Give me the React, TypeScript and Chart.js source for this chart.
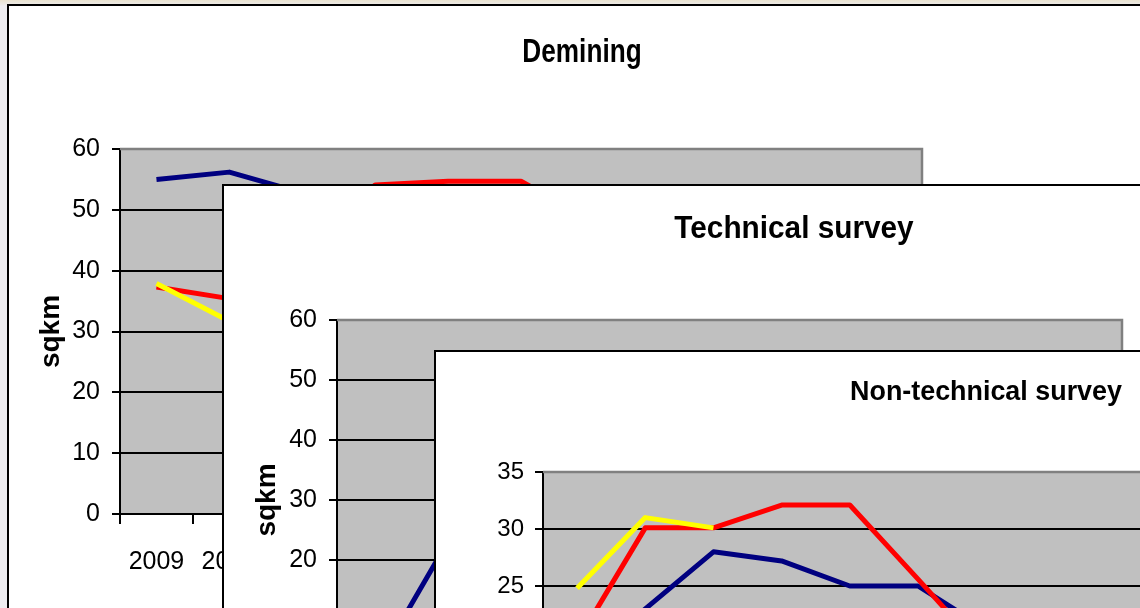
import React, { useEffect, useRef } from 'react';
import { Chart, registerables } from 'chart.js';

Chart.register(...registerables);

const FONT = "'Liberation Sans', Arial, Helvetica, sans-serif";

// Categories (years) shared by the three charts
const years = ['2009', '2010', '2011', '2012', '2013', '2014', '2015', '2016', '2017', '2018', '2019'];

// Demining (sqkm)
const deminingBlue = [55.0, 56.2, 52.8, 50.5, 48.0, 45.0, 42.0, 38.0, 35.0, 31.0, 28.0];
const deminingRed = [37.3, 35.4, 44.0, 54.1, 54.7, 54.7, 48.0, 42.0, 38.0, 33.0, 30.0];
const deminingYellow = [37.9, 31.7, 34.0, 37.0, 40.0, 42.0, 39.0, 35.0, 31.0, 28.0, 25.0];

// Technical survey (sqkm)
const technicalBlue = [1.5, 22.0, 30.0, 34.0, 38.0, 35.0, 30.0, 26.0, 22.0, 19.0, 16.0];
const technicalRed = [3.0, 8.0, 16.0, 24.0, 30.0, 33.0, 29.0, 24.0, 20.0, 17.0, 14.0];
const technicalYellow = [2.0, 6.0, 12.0, 19.0, 24.0, 27.0, 25.0, 21.0, 18.0, 15.0, 12.0];

// Non-technical survey (sqkm)
const nonTechnicalBlue = [18.0, 23.0, 28.0, 27.2, 25.0, 25.0, 21.2, 19.0, 17.0, 15.0, 13.0];
const nonTechnicalRed = [20.1, 30.1, 30.1, 32.1, 32.1, 25.6, 19.0, 16.0, 14.0, 12.0, 11.0];
const nonTechnicalYellow = [24.8, 31.0, 30.1, null, null, null, null, null, null, null, null];

// Axis settings
const deminingMax = 60;
const deminingStep = 10;
const technicalMax = 60;
const technicalStep = 10;
const nonTechnicalMax = 35;
const nonTechnicalStep = 5;

const excelPlot = {
  id: 'excelPlot',
  beforeDraw(chart: any) {
    const { ctx, chartArea: a } = chart;
    ctx.save();
    ctx.fillStyle = '#c0c0c0';
    ctx.fillRect(a.left, a.top, a.right - a.left, a.bottom - a.top);
    ctx.restore();
  },
  beforeDatasetsDraw(chart: any) {
    const { ctx, chartArea: a } = chart;
    ctx.save();
    ctx.strokeStyle = '#808080';
    ctx.lineWidth = 2.5;
    ctx.beginPath();
    ctx.moveTo(a.left, a.top);
    ctx.lineTo(a.right, a.top);
    ctx.lineTo(a.right, a.bottom);
    ctx.stroke();
    ctx.restore();
  },
  afterDraw(chart: any, _args: any, opts: any) {
    const { ctx } = chart;
    ctx.save();
    ctx.translate(opts.x, opts.y);
    ctx.scale(opts.scaleX, 1);
    ctx.font = `bold ${opts.size}px ${FONT}`;
    ctx.fillStyle = '#000';
    ctx.textAlign = 'center';
    ctx.textBaseline = 'alphabetic';
    ctx.fillText(opts.text, 0, 0);
    ctx.restore();
  },
};

type Spec = {
  left: number;
  top: number;
  canvasW: number;
  canvasH: number;
  plotLeft: number;
  plotTop: number;
  plotRight: number;
  plotBottom: number;
  title: string;
  titleX: number;
  titleY: number;
  titleSize: number;
  titleScaleX: number;
  sqkmX: number;
  tickSize: number;
  tickPad: number;
  xLabelPad: number;
  yMax: number;
  yStep: number;
  blue: (number | null)[];
  red: (number | null)[];
  yellow: (number | null)[];
};

function makeConfig(s: Spec): any {
  const tickFont = { family: FONT, size: s.tickSize };
  const line = (label: string, data: (number | null)[], color: string) => ({
    label,
    data,
    borderColor: color,
    backgroundColor: color,
    borderWidth: 5,
    pointRadius: 0,
    tension: 0,
    fill: false,
    borderJoinStyle: 'round',
    borderCapStyle: 'butt',
    spanGaps: false,
  });
  return {
    type: 'line',
    data: {
      labels: years,
      datasets: [
        line('Series 3', s.yellow, '#ffff00'),
        line('Series 2', s.red, '#ff0000'),
        line('Series 1', s.blue, '#000080'),
      ],
    },
    options: {
      responsive: false,
      maintainAspectRatio: false,
      animation: false,
      devicePixelRatio: 1,
      layout: { padding: { left: 0, top: s.plotTop, right: s.canvasW - s.plotRight, bottom: 0 } },
      plugins: {
        legend: { display: false },
        title: { display: false },
        tooltip: { enabled: false },
        excelPlot: { text: s.title, x: s.titleX, y: s.titleY, size: s.titleSize, scaleX: s.titleScaleX },
      },
      scales: {
        x: {
          type: 'category',
          offset: true,
          grid: {
            display: true,
            offset: true,
            drawOnChartArea: false,
            drawTicks: true,
            tickLength: 10,
            color: '#000',
            lineWidth: 2,
          },
          border: { display: true, color: '#000', width: 2 },
          ticks: { color: '#000', font: tickFont, padding: s.xLabelPad, maxRotation: 0, autoSkip: false },
          afterFit: (sc: any) => {
            sc.height = s.canvasH - s.plotBottom;
          },
        },
        y: {
          type: 'linear',
          min: 0,
          max: s.yMax,
          grid: { color: '#000', lineWidth: 2, drawTicks: true, tickLength: 8 },
          border: { display: true, color: '#000', width: 2 },
          ticks: { stepSize: s.yStep, color: '#000', font: tickFont, padding: s.tickPad },
          title: {
            display: true,
            text: 'sqkm',
            color: '#000',
            font: { family: FONT, size: 28, weight: 'bold', lineHeight: 1.2 },
            padding: { top: s.sqkmX - 16.8, bottom: 0 },
          },
          afterFit: (sc: any) => {
            sc.width = s.plotLeft;
          },
        },
      },
    },
    plugins: [excelPlot],
  };
}

const demining: Spec = {
  left: 7,
  top: 4,
  canvasW: 1200,
  canvasH: 640,
  plotLeft: 111,
  plotTop: 143,
  plotRight: 913,
  plotBottom: 508,
  title: 'Demining',
  titleX: 573,
  titleY: 56,
  titleSize: 34,
  titleScaleX: 0.77,
  sqkmX: 42,
  tickSize: 25,
  tickPad: 12,
  xLabelPad: 23,
  yMax: deminingMax,
  yStep: deminingStep,
  blue: deminingBlue,
  red: deminingRed,
  yellow: deminingYellow,
};

const technical: Spec = {
  left: 222,
  top: 184,
  canvasW: 1000,
  canvasH: 620,
  plotLeft: 113,
  plotTop: 134,
  plotRight: 898,
  plotBottom: 494,
  title: 'Technical survey',
  titleX: 570,
  titleY: 52,
  titleSize: 31,
  titleScaleX: 0.96,
  sqkmX: 43,
  tickSize: 25,
  tickPad: 12,
  xLabelPad: 23,
  yMax: technicalMax,
  yStep: technicalStep,
  blue: technicalBlue,
  red: technicalRed,
  yellow: technicalYellow,
};

const nonTechnical: Spec = {
  left: 434,
  top: 350,
  canvasW: 900,
  canvasH: 560,
  plotLeft: 107,
  plotTop: 120,
  plotRight: 857,
  plotBottom: 519,
  title: 'Non-technical survey',
  titleX: 550,
  titleY: 48,
  titleSize: 28,
  titleScaleX: 0.96,
  sqkmX: 40,
  tickSize: 24,
  tickPad: 11,
  xLabelPad: 23,
  yMax: nonTechnicalMax,
  yStep: nonTechnicalStep,
  blue: nonTechnicalBlue,
  red: nonTechnicalRed,
  yellow: nonTechnicalYellow,
};

function Panel({ spec }: { spec: Spec }) {
  const ref = useRef<HTMLCanvasElement>(null);
  useEffect(() => {
    if (!ref.current) return;
    const chart = new Chart(ref.current, makeConfig(spec));
    return () => chart.destroy();
  }, [spec]);
  return (
    <div
      style={{
        position: 'absolute',
        left: spec.left,
        top: spec.top,
        width: spec.canvasW,
        height: spec.canvasH,
        border: '2px solid #000',
        background: '#fff',
      }}
    >
      <canvas
        ref={ref}
        width={spec.canvasW}
        height={spec.canvasH}
        style={{ display: 'block', width: spec.canvasW, height: spec.canvasH }}
      />
    </div>
  );
}

export default function App() {
  return (
    <div
      style={{
        position: 'fixed',
        left: 0,
        top: 0,
        width: 1140,
        height: 608,
        overflow: 'hidden',
        background: 'linear-gradient(180deg, #e9e2cf 0px, #eeedf0 6px)',
      }}
    >
      <Panel spec={demining} />
      <Panel spec={technical} />
      <Panel spec={nonTechnical} />
    </div>
  );
}
